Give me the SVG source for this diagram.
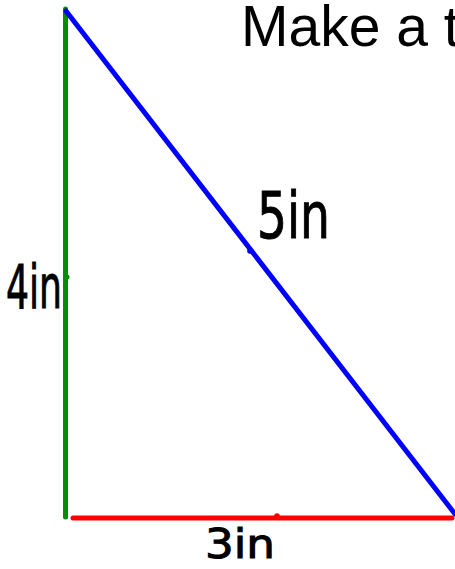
<svg xmlns="http://www.w3.org/2000/svg" width="455" height="569" viewBox="0 0 455 569">
<style>
.edge{fill:none;stroke-width:5;stroke-linecap:round}
.hand{font-family:"DejaVu Sans",sans-serif;fill:#000;stroke:#000;stroke-width:1}
.title{font-family:"Liberation Sans",Arial,sans-serif;font-size:57px;fill:#000}
</style>
<rect width="455" height="569" fill="#fff"/>
<g id="connectors">
<line class="edge" x1="65.5" y1="9" x2="65.5" y2="517" stroke="#008f00"/>
<line class="edge" x1="73" y1="518" x2="452" y2="518" stroke="#ff0000"/>
<line class="edge" x1="66" y1="11" x2="455" y2="514" stroke="#0000ff"/>
<circle cx="67" cy="277" r="2.5" fill="#008f00"/>
<circle cx="250" cy="251" r="2.8" fill="#0000ff"/>
<circle cx="277" cy="516" r="2.8" fill="#ff0000"/>
</g>
<g id="title"><text class="title" x="241" y="46">Make a t</text></g>
<g id="label-4in"><text class="hand" x="6" y="308" font-size="60" textLength="56" lengthAdjust="spacingAndGlyphs">4in</text></g>
<g id="label-5in"><text class="hand" x="257" y="238" font-size="64" textLength="73" lengthAdjust="spacingAndGlyphs">5in</text></g>
<g id="label-3in"><text class="hand" x="205" y="558" font-size="40" textLength="70" lengthAdjust="spacingAndGlyphs">3in</text></g>
</svg>
